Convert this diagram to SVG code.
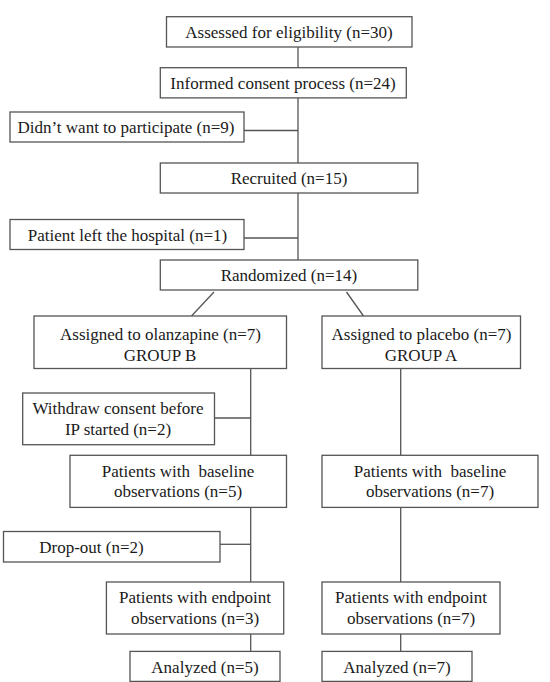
<svg xmlns="http://www.w3.org/2000/svg" width="550" height="682" viewBox="0 0 550 682">
<style>
rect{fill:#fff;stroke:#555;stroke-width:1.3}
text{font-size:17px;fill:#1a1a1a;text-anchor:middle}
#connectors line{stroke:#555;stroke-width:1.3}
</style>
<rect x="0" y="0" width="550" height="682" style="stroke:none"/>
<g id="connectors">
<line x1="298" y1="47" x2="298" y2="68"/>
<line x1="298" y1="98" x2="298" y2="163"/>
<line x1="298" y1="193" x2="298" y2="260"/>
<line x1="244" y1="130.5" x2="298" y2="130.5"/>
<line x1="244" y1="238" x2="298" y2="238"/>
<line x1="214" y1="292" x2="191.5" y2="316"/>
<line x1="346.5" y1="292" x2="363.5" y2="316"/>
<line x1="250.7" y1="368.5" x2="250.7" y2="455.3"/>
<line x1="250.7" y1="507.4" x2="250.7" y2="582"/>
<line x1="250.7" y1="634" x2="250.7" y2="651.4"/>
<line x1="214.5" y1="418" x2="250.7" y2="418"/>
<line x1="220" y1="544.3" x2="250.7" y2="544.3"/>
<line x1="400.7" y1="368.5" x2="400.7" y2="455.3"/>
<line x1="400.7" y1="507.4" x2="400.7" y2="582"/>
<line x1="400.7" y1="634" x2="400.7" y2="651.4"/>
</g>
<g id="nodes" font-family="Liberation Serif, Times New Roman, serif">
<g id="assessed"><rect x="166.5" y="16.7" width="245.5" height="30.3"/><text x="289" y="37.5">Assessed for eligibility (n=30)</text></g>
<g id="consent"><rect x="160.3" y="67.7" width="246" height="30.2"/><text x="283" y="88.5">Informed consent process (n=24)</text></g>
<g id="declined"><rect x="10" y="112" width="234" height="30"/><text x="126" y="133">Didn’t want to participate (n=9)</text></g>
<g id="recruited"><rect x="160.3" y="163" width="257.5" height="30"/><text x="289" y="184">Recruited (n=15)</text></g>
<g id="left-hospital"><rect x="10" y="219.5" width="234" height="30"/><text x="127.5" y="240.5">Patient left the hospital (n=1)</text></g>
<g id="randomized"><rect x="160.3" y="260" width="257.5" height="30"/><text x="289" y="281">Randomized (n=14)</text></g>
<g id="olanzapine"><rect x="34" y="316" width="252.5" height="52.5"/><text x="160.5" y="340">Assigned to olanzapine (n=7)</text><text x="160" y="360.5">GROUP B</text></g>
<g id="placebo"><rect x="322" y="316" width="198.5" height="52.5"/><text x="421.5" y="340">Assigned to placebo (n=7)</text><text x="421" y="360.5">GROUP A</text></g>
<g id="withdraw"><rect x="22.7" y="393" width="191.8" height="51.7"/><text x="118" y="414">Withdraw consent before</text><text x="118" y="434.5">IP started (n=2)</text></g>
<g id="baseline-b"><rect x="70" y="455.3" width="216.5" height="52.1"/><text x="178" y="476.5" xml:space="preserve">Patients with  baseline</text><text x="178" y="497">observations (n=5)</text></g>
<g id="baseline-a"><rect x="322" y="455.3" width="216" height="52.1"/><text x="430" y="476.5" xml:space="preserve">Patients with  baseline</text><text x="430" y="497">observations (n=7)</text></g>
<g id="dropout"><rect x="3.5" y="531.5" width="216.5" height="30.5"/><text x="91.5" y="552.5">Drop-out (n=2)</text></g>
<g id="endpoint-b"><rect x="106.4" y="582" width="177.3" height="52"/><text x="195" y="603">Patients with endpoint</text><text x="195" y="623.5">observations (n=3)</text></g>
<g id="endpoint-a"><rect x="322" y="582" width="178" height="52"/><text x="411" y="603">Patients with endpoint</text><text x="411" y="623.5">observations (n=7)</text></g>
<g id="analyzed-b"><rect x="130" y="651.4" width="150" height="30"/><text x="205" y="672.5">Analyzed (n=5)</text></g>
<g id="analyzed-a"><rect x="322" y="651.4" width="150" height="30"/><text x="397" y="672.5">Analyzed (n=7)</text></g>
</g>
</svg>
